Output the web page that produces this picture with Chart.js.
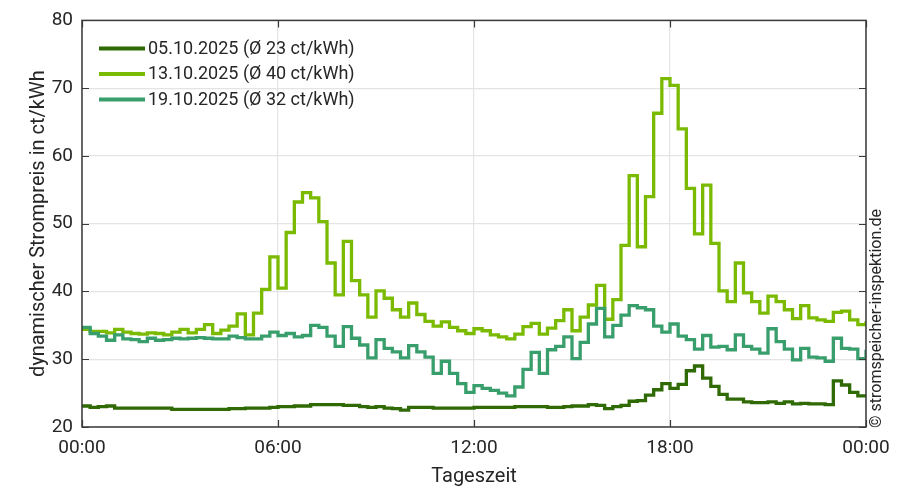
<!DOCTYPE html>
<html>
<head>
<meta charset="utf-8">
<script src="https://cdn.jsdelivr.net/npm/chart.js@4/dist/chart.umd.min.js"></script>
<style>
  html, body { margin: 0; padding: 0; background: #ffffff; }
  #wrap { width: 901px; height: 489px; }
</style>
</head>
<body>
<div id="wrap"><canvas id="c" width="901" height="489"></canvas></div>
<script>
// Quarter-hour dynamic electricity prices (ct/kWh), 96 intervals + closing point at 24:00
const seriesLabels = [
  '05.10.2025 (Ø 23 ct/kWh)',
  '13.10.2025 (Ø 40 ct/kWh)',
  '19.10.2025 (Ø 32 ct/kWh)'
];

const price0510 = [
  23.1, 22.9, 23.0, 23.1, 22.8, 22.8, 22.8, 22.8, 22.8, 22.8, 22.8, 22.6,
  22.6, 22.6, 22.6, 22.6, 22.6, 22.6, 22.7, 22.7, 22.8, 22.8, 22.8, 22.9,
  23.0, 23.0, 23.1, 23.1, 23.3, 23.3, 23.3, 23.3, 23.2, 23.2, 23.0, 22.9,
  23.0, 22.8, 22.7, 22.5, 22.9, 22.9, 22.9, 22.8, 22.8, 22.8, 22.8, 22.8,
  22.9, 22.9, 22.9, 22.9, 22.9, 23.0, 23.0, 23.0, 23.0, 22.9, 22.9, 23.0,
  23.1, 23.1, 23.3, 23.2, 22.7, 23.0, 23.2, 23.8, 23.9, 24.7, 25.5, 26.4,
  25.7, 26.3, 28.3, 29.0, 27.2, 26.0, 24.8, 24.1, 24.1, 23.7, 23.6, 23.6,
  23.7, 23.5, 23.7, 23.4, 23.5, 23.4, 23.4, 23.3, 26.8, 26.2, 25.1, 24.6,
  24.6
];

const price1310 = [
  34.4, 34.1, 34.1, 33.9, 34.4, 34.0, 33.8, 33.7, 33.9, 33.8, 33.6, 34.0,
  34.4, 33.9, 34.4, 35.1, 33.8, 34.3, 34.9, 36.7, 33.6, 36.8, 40.3, 45.1,
  40.5, 48.7, 53.2, 54.6, 53.8, 50.3, 44.2, 39.5, 47.4, 41.6, 39.5, 36.2,
  40.1, 39.0, 37.3, 36.2, 38.3, 36.6, 35.6, 34.9, 35.5, 34.7, 34.2, 33.8,
  34.5, 34.2, 33.6, 33.3, 33.0, 33.7, 34.8, 35.3, 33.7, 34.6, 35.7, 37.3,
  34.2, 36.2, 38.0, 40.9, 35.9, 38.8, 46.8, 57.1, 46.6, 54.0, 66.3, 71.4,
  70.4, 64.0, 55.2, 48.5, 55.7, 47.1, 40.1, 38.5, 44.2, 39.8, 38.5, 36.8,
  39.3, 38.5, 37.3, 36.0, 37.9, 36.1, 35.8, 35.6, 36.9, 37.1, 35.8, 35.1,
  35.6
];

const price1910 = [
  34.7, 33.8, 33.4, 32.8, 33.6, 33.0, 32.9, 32.6, 33.1, 32.8, 32.9, 33.1,
  33.0, 33.1, 33.2, 33.1, 33.0, 33.0, 33.4, 33.2, 33.0, 33.0, 33.4, 34.0,
  33.5, 33.8, 33.3, 33.5, 35.0, 34.7, 33.4, 31.9, 34.8, 33.1, 32.1, 30.2,
  32.9, 31.6, 31.1, 30.2, 32.0, 31.1, 30.3, 27.9, 29.7, 27.9, 26.4, 25.1,
  26.1, 25.7, 25.4, 25.0, 24.6, 25.9, 28.5, 31.0, 27.9, 31.4, 31.9, 33.3,
  30.1, 32.5, 35.2, 37.5, 33.3, 35.0, 36.5, 37.9, 37.6, 37.3, 34.9, 34.0,
  35.2, 33.4, 32.9, 31.5, 33.5, 31.8, 31.9, 31.4, 33.6, 31.9, 31.5, 30.9,
  34.5, 32.6, 31.5, 29.9, 31.6, 30.3, 30.2, 29.7, 33.1, 31.6, 31.5, 30.1,
  31.4
];

const seriesColors = ['#2f6a04', '#7aba00', '#389e6c'];
const timeTickLabels = ['00:00', '06:00', '12:00', '18:00', '00:00'];
const STEP_HOURS = 0.25;

const FONT = 'Roboto, "DejaVu Sans", sans-serif';
const TEXT = '#262626';
const FRAME = '#3a3a3a';

const toPoints = (arr) => arr.map((v, i) => ({ x: i * STEP_HOURS, y: v }));

// Frame around the plot area, inward tick marks, legend box and copyright note
const decorations = {
  id: 'decorations',
  afterDraw(chart) {
    const { ctx, chartArea: a, scales } = chart;
    ctx.save();

    // inward tick marks on all four sides
    ctx.strokeStyle = FRAME;
    ctx.lineWidth = 1.2;
    const tl = 7;
    ctx.beginPath();
    scales.x.ticks.forEach(t => {
      const px = Math.round(scales.x.getPixelForValue(t.value)) + 0.5;
      ctx.moveTo(px, a.bottom); ctx.lineTo(px, a.bottom - tl);
      ctx.moveTo(px, a.top); ctx.lineTo(px, a.top + tl);
    });
    scales.y.ticks.forEach(t => {
      const py = Math.round(scales.y.getPixelForValue(t.value)) + 0.5;
      ctx.moveTo(a.left, py); ctx.lineTo(a.left + tl, py);
      ctx.moveTo(a.right, py); ctx.lineTo(a.right - tl, py);
    });
    ctx.stroke();

    // plot frame
    ctx.lineWidth = 1.5;
    ctx.strokeRect(a.left, a.top, a.right - a.left, a.bottom - a.top);

    // legend
    ctx.font = '18px ' + FONT;
    ctx.textBaseline = 'middle';
    ctx.textAlign = 'left';
    chart.data.datasets.forEach((ds, i) => {
      const y = a.top + 28 + i * 25.5;
      ctx.strokeStyle = ds.borderColor;
      ctx.lineWidth = 4;
      ctx.beginPath();
      ctx.moveTo(a.left + 17, y);
      ctx.lineTo(a.left + 63, y);
      ctx.stroke();
      ctx.fillStyle = TEXT;
      ctx.fillText(ds.label, a.left + 66, y + 1);
    });

    // copyright note, vertical at the right edge
    ctx.translate(a.right + 11, a.bottom + 1);
    ctx.rotate(-Math.PI / 2);
    ctx.font = '16px ' + FONT;
    ctx.fillStyle = TEXT;
    ctx.textAlign = 'left';
    ctx.textBaseline = 'middle';
    ctx.fillText('© stromspeicher-inspektion.de', 0, 0);

    ctx.restore();
  }
};

const makeDataset = (label, values, color, order) => ({
  label,
  data: toPoints(values),
  borderColor: color,
  backgroundColor: color,
  borderWidth: 3.3,
  pointRadius: 0,
  stepped: 'before',
  borderJoinStyle: 'miter',
  borderCapStyle: 'butt',
  fill: false,
  order
});

new Chart(document.getElementById('c'), {
  type: 'line',
  data: {
    datasets: [
      makeDataset(seriesLabels[0], price0510, seriesColors[0], 3),
      makeDataset(seriesLabels[1], price1310, seriesColors[1], 2),
      makeDataset(seriesLabels[2], price1910, seriesColors[2], 1)
    ]
  },
  options: {
    responsive: false,
    animation: false,
    devicePixelRatio: 1,
    layout: { padding: { top: 20, right: 35, left: 0, bottom: 0 } },
    plugins: {
      legend: { display: false },
      tooltip: { enabled: false }
    },
    scales: {
      x: {
        type: 'linear',
        min: 0,
        max: 24,
        afterFit(s) { s.height = 62; },
        grid: { color: '#e4e4e4', lineWidth: 1.2, drawTicks: false },
        border: { display: false },
        ticks: {
          stepSize: 6,
          padding: 10,
          color: TEXT,
          font: { family: FONT, size: 19 },
          maxRotation: 0,
          callback: (v, i) => timeTickLabels[i]
        },
        title: {
          display: true,
          text: 'Tageszeit',
          color: TEXT,
          font: { family: FONT, size: 20 },
          padding: { top: 0, bottom: 0 }
        }
      },
      y: {
        type: 'linear',
        min: 20,
        max: 80,
        afterFit(s) { s.width = 82; },
        grid: { color: '#e4e4e4', lineWidth: 1.2, drawTicks: false },
        border: { display: false },
        ticks: {
          stepSize: 10,
          padding: 9,
          color: TEXT,
          font: { family: FONT, size: 19 }
        },
        title: {
          display: true,
          text: 'dynamischer Strompreis in ct/kWh',
          color: TEXT,
          font: { family: FONT, size: 20 },
          padding: { top: 27, bottom: 0 }
        }
      }
    }
  },
  plugins: [decorations]
});
</script>
</body>
</html>
